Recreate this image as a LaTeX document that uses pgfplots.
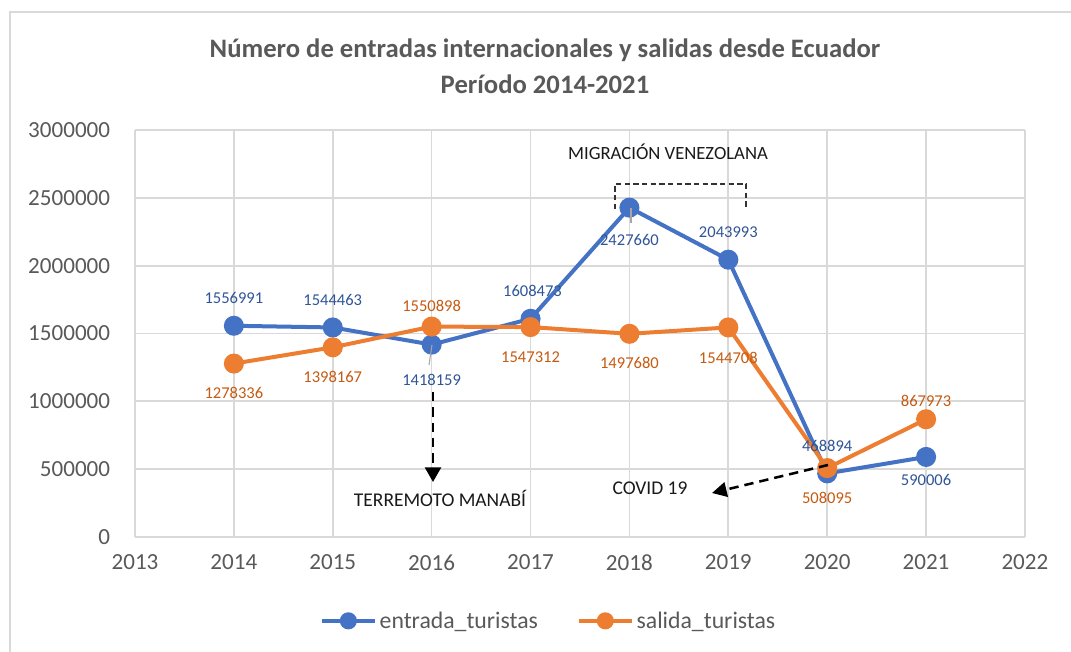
\documentclass[border=0pt]{standalone}
\usepackage{fontspec}
\setmainfont{Carlito}
\usepackage{pgfplots}
\pgfplotsset{compat=1.18}
\usetikzlibrary{arrows.meta}
\definecolor{txtgray}{HTML}{595959}
\definecolor{gridgray}{HTML}{D9D9D9}
\definecolor{cblue}{HTML}{4472C4}
\definecolor{corange}{HTML}{ED7D31}
\definecolor{lblue}{HTML}{2F5597}
\definecolor{lorange}{HTML}{C55A11}
\pgfplotstableread{
year entrada salida
2014 1556991 1278336
2015 1544463 1398167
2016 1418159 1550898
2017 1608473 1547312
2018 2427660 1497680
2019 2043993 1544708
2020 468894 508095
2021 590006 867973
}\datatable
\begin{document}
\begin{tikzpicture}
\begin{scope}[x=0.75pt,y=0.75pt]
\useasboundingbox (0,0) rectangle (1071,652);
\draw[gridgray, line width=1.2pt] (10,0) -- (10,640) -- (1071,640);
\node[font=\fontsize{20}{20}\selectfont\bfseries, text=txtgray] at (545,602) {Número de entradas internacionales y salidas desde Ecuador};
\node[font=\fontsize{20}{20}\selectfont\bfseries, text=txtgray] at (545,568) {Período 2014-2021};
\end{scope}
\begin{axis}[
  at={(101.25pt,86.25pt)}, anchor=south west,
  scale only axis, width=667.5pt, height=305.25pt,
  xmin=2013, xmax=2022, ymin=0, ymax=3000000,
  xtick={2013,...,2022}, ytick={0,500000,...,3000000},
  grid=major, grid style={gridgray, line width=1.3pt},
  axis line style={draw=none}, major tick length=0pt,
  scaled y ticks=false,
  /pgf/number format/assume math mode=true,
  /pgf/number format/1000 sep={},
  /pgf/number format/fixed,
  ticklabel style={font=\fontsize{17.3}{17.3}\selectfont, text=txtgray, inner sep=0pt},
  yticklabel style={anchor=east, xshift=-18.5pt},
  xticklabel style={anchor=north, yshift=-13pt},
  legend style={at={(0.465,-0.206)}, anchor=center, draw=none, fill=none,
    legend columns=2, font=\fontsize{17.8}{17.8}\selectfont, text=txtgray,
    /tikz/every even column/.append style={column sep=27pt}},
  legend cell align=left,
  legend image code/.code={\draw[mark repeat=2,mark phase=2, mark size=4.9pt] plot coordinates {(0pt,0pt) (20pt,0pt) (40pt,0pt)};},
  every axis plot/.append style={line width=3pt, mark=*, mark size=6pt, mark options={solid, line width=0.4pt}},
  clip=false,
]
\addplot[cblue, mark options={fill=cblue, draw=cblue}] table[x=year, y=entrada] {\datatable};
\addlegendentry{entrada\_turistas}
\addplot[corange, mark options={fill=corange, draw=corange}] table[x=year, y=salida] {\datatable};
\addlegendentry{salida\_turistas}
\begin{scope}[every node/.style={font=\fontsize{12.4}{12.4}\selectfont, text=lblue}]
\node at (axis cs:2014,1556991) [yshift=21pt] {1556991};
\node at (axis cs:2015,1544463) [yshift=20.6pt] {1544463};
\node at (axis cs:2016,1418159) [yshift=-26.5pt] {1418159};
\node at (axis cs:2017.02,1608473) [yshift=21pt] {1608473};
\node at (axis cs:2018,2427660) [yshift=-24.3pt] {2427660};
\node at (axis cs:2019,2043993) [yshift=21pt] {2043993};
\node at (axis cs:2020,468894) [yshift=20.5pt] {468894};
\node at (axis cs:2021,590006) [yshift=-17.5pt] {590006};
\end{scope}
\begin{scope}[every node/.style={font=\fontsize{12.4}{12.4}\selectfont, text=lorange}]
\node at (axis cs:2014,1278336) [yshift=-22pt] {1278336};
\node at (axis cs:2015,1398167) [yshift=-22pt] {1398167};
\node at (axis cs:2016,1550898) [yshift=15.5pt] {1550898};
\node at (axis cs:2017,1547312) [yshift=-22.5pt] {1547312};
\node at (axis cs:2018,1497680) [yshift=-22pt] {1497680};
\node at (axis cs:2019,1544708) [yshift=-23pt] {1544708};
\node at (axis cs:2020,508095) [yshift=-22.5pt] {508095};
\node at (axis cs:2021,867973) [yshift=13.5pt] {867973};
\end{scope}
\end{axis}
\begin{scope}[x=0.75pt,y=0.75pt]
\draw[gray!70, line width=0.8pt] (429,287) -- (432,307);
\draw[gray!70, line width=0.8pt] (631,444) -- (631,429);
\node[font=\fontsize{14}{14}\selectfont, text=black!90] at (668,500) {MIGRACIÓN VENEZOLANA};
\draw[black!80, line width=1pt, dash pattern=on 4pt off 2.5pt] (615,443) -- (615,468) -- (746,468) -- (746,443);
\draw[black, line width=1.9pt, dash pattern=on 7pt off 4.5pt, -{Triangle[length=11pt,width=12pt]}] (433,260) -- (433,170);
\node[font=\fontsize{14.6}{14.6}\selectfont, text=black!90] at (440,154) {TERREMOTO MANABÍ};
\node[font=\fontsize{14.6}{14.6}\selectfont, text=black!90] at (650,164) {COVID 19};
\draw[black, line width=1.9pt, dash pattern=on 7pt off 4.5pt, -{Triangle[length=11pt,width=11pt]}] (828,187) -- (712,159);
\end{scope}
\end{tikzpicture}
\end{document}
